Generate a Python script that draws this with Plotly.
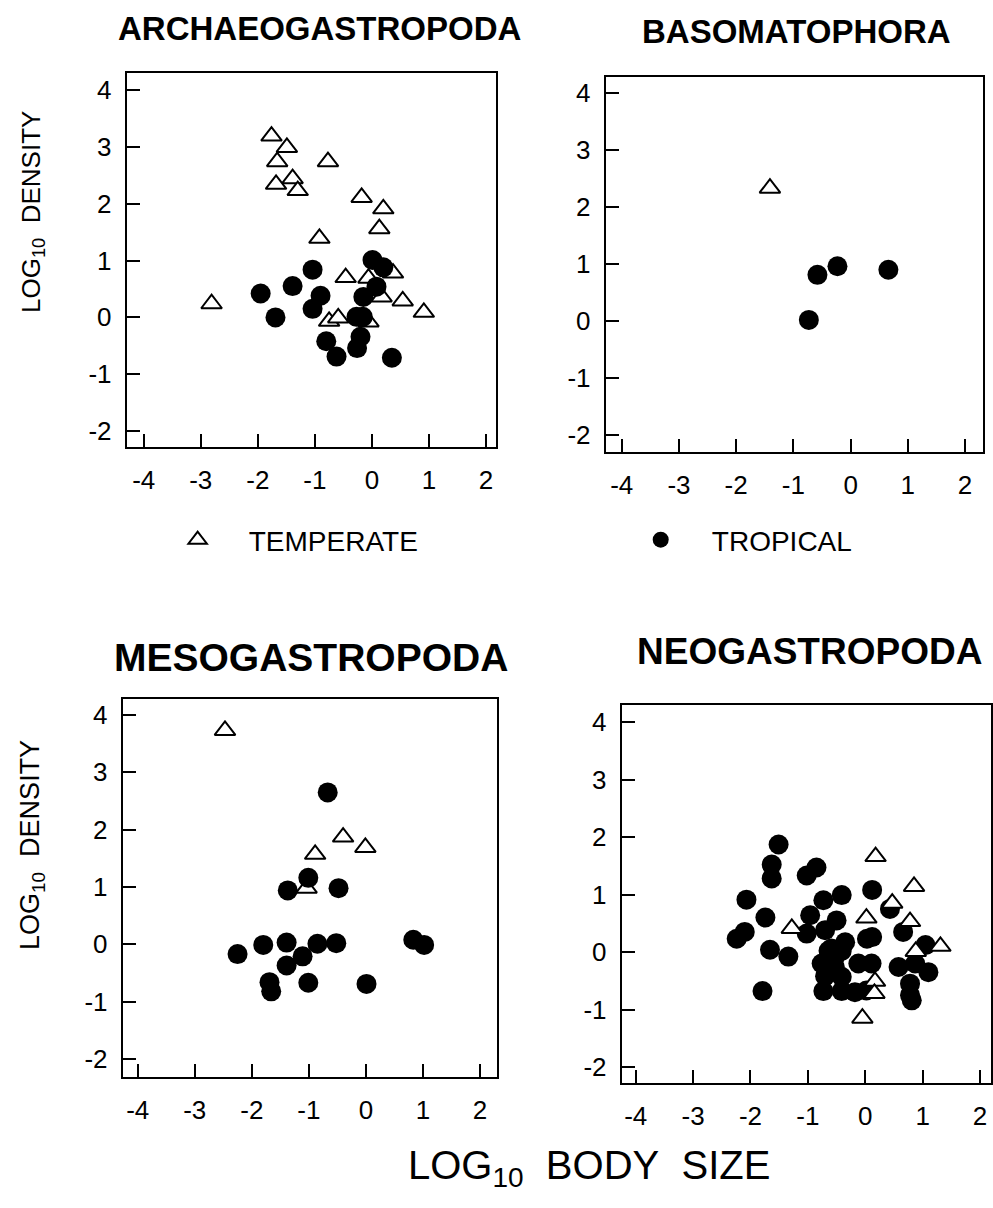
import plotly.graph_objects as go

# ---- data: log10 body size (x) vs log10 density (y) ----
x_tickvals = [-4, -3, -2, -1, 0, 1, 2]
x_ticktext = ["-4", "-3", "-2", "-1", "0", "1", "2"]
y_tickvals = [-2, -1, 0, 1, 2, 3, 4]
y_ticktext = ["-2", "-1", "0", "1", "2", "3", "4"]

panel_titles = ["ARCHAEOGASTROPODA", "BASOMATOPHORA", "MESOGASTROPODA", "NEOGASTROPODA"]

arch_temp_x = [-1.76, -1.49, -1.66, -0.77, -1.39, -1.68, -1.30, -0.18, 0.20, 0.13, -0.92,
               -0.46, -0.06, 0.37, -2.81, 0.17, 0.54, 0.91, -0.75, -0.59, -0.06]
arch_temp_y = [3.19, 2.99, 2.74, 2.74, 2.44, 2.34, 2.23, 2.11, 1.91, 1.56, 1.39,
               0.70, 0.69, 0.78, 0.24, 0.36, 0.29, 0.09, -0.07, -0.01, -0.08]
arch_trop_x = [0.01, 0.20, -1.04, 0.08, -1.39, -1.95, -0.90, -0.15, -1.04, -1.69, -0.27,
               -0.16, -0.20, -0.80, -0.26, -0.62, 0.35]
arch_trop_y = [1.01, 0.88, 0.84, 0.54, 0.55, 0.42, 0.38, 0.36, 0.15, 0.00, 0.01,
               0.01, -0.34, -0.42, -0.54, -0.69, -0.71]

baso_temp_x = [-1.41]
baso_temp_y = [2.33]
baso_trop_x = [-0.58, -0.23, 0.66, -0.73]
baso_trop_y = [0.81, 0.96, 0.90, 0.02]

meso_temp_x = [-2.47, -0.40, -0.01, -0.89, -1.04]
meso_temp_y = [3.73, 1.87, 1.69, 1.57, 0.98]
meso_trop_x = [-0.67, -1.01, -1.37, -0.48, -1.80, -1.39, -0.85, -0.52, -2.25, -1.11,
               -1.39, -1.69, -1.66, -1.01, 0.01, 0.83, 1.02]
meso_trop_y = [2.65, 1.16, 0.94, 0.98, -0.01, 0.03, 0.01, 0.02, -0.17, -0.21,
               -0.37, -0.66, -0.82, -0.67, -0.69, 0.08, -0.01]

neo_temp_x = [0.18, 0.85, 0.47, 0.02, 0.78, -1.28, 1.31, 0.88, 0.17, 0.16, -0.05]
neo_temp_y = [1.66, 1.14, 0.85, 0.59, 0.53, 0.41, 0.10, 0.01, -0.51, -0.72, -1.15]
neo_trop_x = [-1.51, -1.63, -1.63, -0.85, -1.02, -2.07, -0.41, -0.73, 0.12, -1.74,
              -0.96, -0.50, 0.43, -2.24, -2.10, -1.02, -0.70, 0.66, -0.35, 0.03,
              0.12, 1.05, -1.66, -1.34, -0.64, -0.41, -0.76, -0.53, -0.12, 0.11,
              0.58, 0.87, 1.10, -0.70, -0.41, 0.78, 0.78, 0.81, -1.79, -0.73,
              -0.41, -0.18, 0.02, -0.59, -0.53]
neo_trop_y = [1.87, 1.52, 1.28, 1.47, 1.33, 0.91, 0.99, 0.90, 1.08, 0.60,
              0.64, 0.55, 0.75, 0.23, 0.35, 0.32, 0.38, 0.35, 0.17, 0.23,
              0.26, 0.12, 0.04, -0.08, 0.02, 0.02, -0.20, -0.26, -0.20, -0.20,
              -0.26, -0.20, -0.35, -0.42, -0.43, -0.55, -0.75, -0.84, -0.68, -0.68,
              -0.68, -0.70, -0.67, 0.06, -0.09]

panels = [
    (arch_temp_x, arch_temp_y, arch_trop_x, arch_trop_y),
    (baso_temp_x, baso_temp_y, baso_trop_x, baso_trop_y),
    (meso_temp_x, meso_temp_y, meso_trop_x, meso_trop_y),
    (neo_temp_x, neo_temp_y, neo_trop_x, neo_trop_y),
]

W, H = 993, 1208
FONT = "Liberation Sans, Arial, Helvetica, sans-serif"

# pixel boxes of each panel: (left, right, top, bottom) and axis ranges
boxes = [(127, 497, 73, 447), (607, 985, 77, 452), (123, 498, 699, 1077), (623, 993, 705, 1083)]
xranges = [(-4.297, 2.175), (-4.279, 2.314), (-4.262, 2.297), (-4.243, 2.191)]
yranges = [(-2.28, 4.299), (-2.298, 4.281), (-2.314, 4.279), (-2.278, 4.296)]

tri_marker = dict(symbol="triangle-up", size=18, color="white",
                  line=dict(color="black", width=2))
dot_marker = dict(symbol="circle", size=20, color="black", line=dict(width=0))

fig = go.Figure()

for i, (tx, ty, cx, cy) in enumerate(panels):
    suffix = "" if i == 0 else str(i + 1)
    xa, ya = "x" + suffix, "y" + suffix
    temp = go.Scatter(x=tx, y=ty, mode="markers", marker=tri_marker, xaxis=xa, yaxis=ya,
                      name="\u00a0\u00a0\u00a0\u00a0TEMPERATE", legend="legend",
                      showlegend=(i == 0))
    trop = go.Scatter(x=cx, y=cy, mode="markers", marker=dot_marker, xaxis=xa, yaxis=ya,
                      name="\u00a0\u00a0\u00a0\u00a0TROPICAL", legend="legend2",
                      showlegend=(i == 0))
    # Neogastropoda temperate species sit on top of the tropical cloud
    order = [trop, temp] if i == 3 else [temp, trop]
    for tr in order:
        fig.add_trace(tr)

axis_common = dict(showgrid=False, zeroline=False, showline=True, mirror=True,
                   linecolor="black", linewidth=2, ticks="inside", ticklen=13,
                   tickwidth=2, tickcolor="black",
                   tickfont=dict(family=FONT, size=26, color="black"))

layout = dict(width=W, height=H, margin=dict(l=0, r=0, t=0, b=0),
              paper_bgcolor="white", plot_bgcolor="white")

for i, (l, r, t, b) in enumerate(boxes):
    suffix = "" if i == 0 else str(i + 1)
    layout["xaxis" + suffix] = dict(axis_common, domain=[l / W, r / W],
                                    range=list(xranges[i]), anchor="y" + suffix,
                                    tickvals=x_tickvals, ticktext=x_ticktext,
                                    ticklabelstandoff=9)
    layout["yaxis" + suffix] = dict(axis_common, domain=[1 - b / H, 1 - t / H],
                                    range=list(yranges[i]), anchor="x" + suffix,
                                    tickvals=y_tickvals, ticktext=y_ticktext,
                                    ticklabelstandoff=8)

fig.update_layout(**layout)

annotations = []
title_pos = [(320, 28, 33), (798, 31, 33), (312, 657, 39), (811, 651, 37)]
for title, (cx, cy, fs) in zip(panel_titles, title_pos):
    annotations.append(dict(text="<b>%s</b>" % title, x=cx / W, y=1 - cy / H,
                            xref="paper", yref="paper", showarrow=False,
                            xanchor="center", yanchor="middle",
                            font=dict(family=FONT, size=fs, color="black")))

for cy, fs in [(212, 26), (845, 27)]:
    annotations.append(dict(text="LOG<sub>10</sub>\u00a0 DENSITY", x=32 / W, y=1 - cy / H,
                            xref="paper", yref="paper", showarrow=False, textangle=-90,
                            xanchor="center", yanchor="middle",
                            font=dict(family=FONT, size=fs, color="black")))

annotations.append(dict(text="LOG<sub>10</sub>\u00a0 BODY\u00a0 SIZE", x=590 / W, y=1 - 1168 / H,
                        xref="paper", yref="paper", showarrow=False,
                        xanchor="center", yanchor="middle",
                        font=dict(family=FONT, size=40, color="black")))

legend_common = dict(yanchor="middle", xanchor="left", bgcolor="rgba(0,0,0,0)",
                     borderwidth=0, font=dict(family=FONT, size=28, color="black"))
fig.update_layout(
    annotations=annotations,
    legend=dict(legend_common, x=178 / W, y=1 - 540 / H),
    legend2=dict(legend_common, x=642 / W, y=1 - 540 / H),
)

fig.write_html("out.html")
